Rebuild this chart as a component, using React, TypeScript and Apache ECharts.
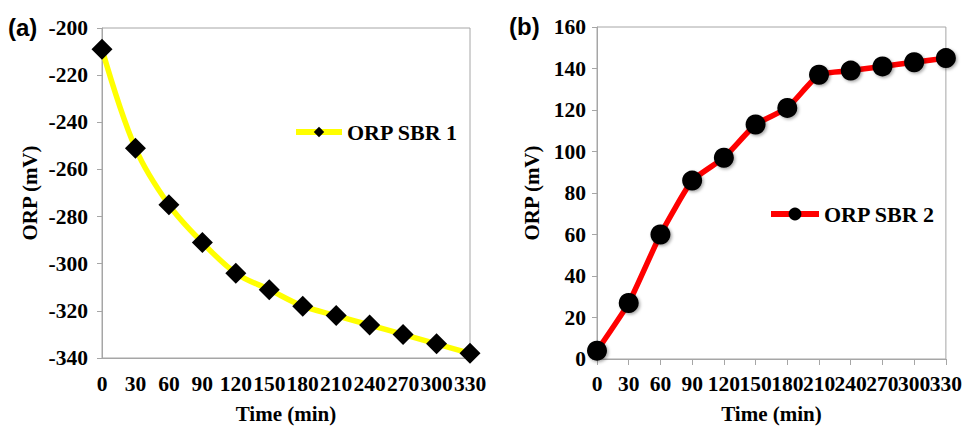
import React, { useEffect, useRef } from "react";
import * as echarts from "echarts";

const times = ["0", "30", "60", "90", "120", "150", "180", "210", "240", "270", "300", "330"];
const orpSbr1 = [-209, -251, -275, -291, -304, -311, -318, -322, -326, -330, -334, -338];
const orpSbr2 = [4, 27, 60, 86, 97, 113, 121, 137, 139, 141, 143, 145];
const seriesNames = ["ORP SBR 1", "ORP SBR 2"];
const panelLabels = ["(a)", "(b)"];

const SERIF = "'Liberation Serif', 'Times New Roman', serif";
const SANS = "'Liberation Sans', Arial, sans-serif";
const GRAY = "#a6a6a6";

export default function App() {
  const ref = useRef<HTMLDivElement>(null);
  useEffect(() => {
    if (!ref.current) return;
    const chart = echarts.init(ref.current, undefined, { renderer: "svg" });
    const labelStyle = { color: "#000", fontFamily: SERIF, fontWeight: "bold" as const, fontSize: 21.5 };
    const nameStyle = { color: "#000", fontFamily: SERIF, fontWeight: "bold" as const, fontSize: 21 };
    const xBase = (gridIndex: number, showTicks: boolean, nameGap: number, margin: number) => ({
      type: "category" as const,
      gridIndex,
      data: times,
      boundaryGap: false,
      name: "Time (min)",
      nameLocation: "middle" as const,
      nameGap,
      nameTextStyle: nameStyle,
      axisLine: { show: true, lineStyle: { color: GRAY, width: 1 } },
      axisTick: { show: showTicks, length: 6, interval: 0, lineStyle: { color: GRAY } },
      axisLabel: { ...labelStyle, margin, interval: 0 },
      splitLine: { show: false },
    });
    const yBase = (gridIndex: number, min: number, max: number, nameGap: number, margin: number) => ({
      type: "value" as const,
      gridIndex,
      min,
      max,
      interval: 20,
      name: "ORP (mV)",
      nameLocation: "middle" as const,
      nameGap,
      nameRotate: 90,
      nameTextStyle: nameStyle,
      axisLine: { show: true, lineStyle: { color: GRAY, width: 1 } },
      axisTick: { show: true, length: 5, lineStyle: { color: GRAY } },
      axisLabel: { ...labelStyle, margin, showMinLabel: true, showMaxLabel: true },
      splitLine: { show: false },
    });
    chart.setOption({
      animation: false,
      backgroundColor: "#fff",
      grid: [
        { left: 102, top: 28, width: 368, height: 331, show: true, borderColor: GRAY, borderWidth: 1, backgroundColor: "transparent" },
        { left: 597, top: 27, width: 350, height: 338, show: true, borderColor: GRAY, borderWidth: 1, backgroundColor: "transparent" },
      ],
      xAxis: [xBase(0, false, 45, 15), xBase(1, true, 44, 14)],
      yAxis: [yBase(0, -340, -200, 62, 14), yBase(1, 0, 160, 55, 11)],
      legend: [
        {
          data: [seriesNames[0]],
          left: 288,
          top: 116,
          itemWidth: 46,
          itemHeight: 13,
          itemGap: 4,
          lineStyle: { width: 6 },
          textStyle: { ...labelStyle, fontSize: 22 },
        },
        {
          data: [seriesNames[1]],
          left: 763,
          top: 198,
          itemWidth: 48,
          itemHeight: 16,
          itemGap: 4,
          lineStyle: { width: 6 },
          textStyle: { ...labelStyle, fontSize: 22 },
        },
      ],
      graphic: [
        { type: "text", left: 8, top: 15, style: { text: panelLabels[0], font: `bold 24px ${SANS}`, fill: "#000" } },
        { type: "text", left: 509, top: 14, style: { text: panelLabels[1], font: `bold 24px ${SANS}`, fill: "#000" } },
      ],
      series: [
        {
          name: seriesNames[0],
          type: "line",
          xAxisIndex: 0,
          yAxisIndex: 0,
          data: orpSbr1,
          smooth: 0.35,
          symbol: "diamond",
          symbolSize: 21,
          lineStyle: { color: "#ffff00", width: 5.5 },
          itemStyle: { color: "#000" },
          clip: false,
          z: 3,
        },
        {
          name: seriesNames[1],
          type: "line",
          xAxisIndex: 1,
          yAxisIndex: 1,
          data: orpSbr2,
          smooth: 0.15,
          symbol: "circle",
          symbolSize: 20,
          lineStyle: { color: "#ff0000", width: 5.5 },
          itemStyle: { color: "#000", shadowBlur: 3, shadowOffsetX: 1.5, shadowOffsetY: 1.5, shadowColor: "rgba(0,0,0,0.35)" },
          clip: false,
          z: 3,
        },
      ],
    });
    return () => chart.dispose();
  }, []);
  return (
    <div
      ref={ref}
      style={{ position: "absolute", left: 0, top: 0, width: 965, height: 429 }}
    />
  );
}
